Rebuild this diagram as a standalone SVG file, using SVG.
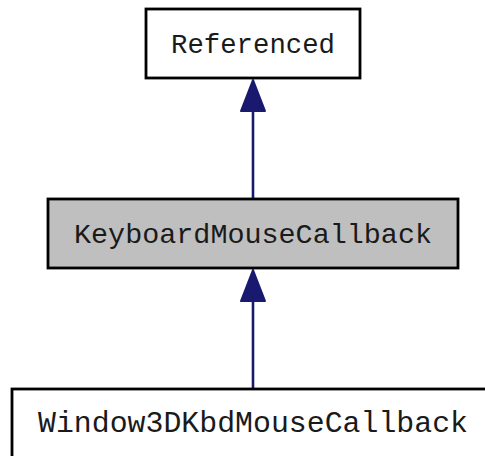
<svg xmlns="http://www.w3.org/2000/svg" width="485" height="456" viewBox="0 0 485 456">
<style>
.box{stroke:#000;stroke-width:2.8;}
.lbl{font-family:"Liberation Mono","Courier New",monospace;font-size:28px;fill:#1a1a1a;text-anchor:middle;}
.edge{stroke:#191970;stroke-width:2.6;fill:none;}
.head{fill:#191970;stroke:#191970;stroke-width:2;stroke-linejoin:round;}
</style>
<rect width="485" height="456" fill="#fff"/>
<g id="connectors">
<line class="edge" x1="253" y1="110" x2="253" y2="198"/>
<polygon class="head" points="253,80 241,111 265,111"/>
<line class="edge" x1="253" y1="300" x2="253" y2="389"/>
<polygon class="head" points="253,270 241,301 265,301"/>
</g>
<g id="node-referenced">
<rect class="box" x="146" y="9" width="214" height="69" fill="#fff"/>
<text class="lbl" x="253" y="53" textLength="164" lengthAdjust="spacingAndGlyphs">Referenced</text>
</g>
<g id="node-keyboardmousecallback">
<rect class="box" x="48" y="199" width="410" height="69" fill="#bfbfbf"/>
<text class="lbl" x="253" y="243" textLength="358" lengthAdjust="spacingAndGlyphs">KeyboardMouseCallback</text>
</g>
<g id="node-window3dkbdmousecallback">
<rect class="box" x="12" y="389" width="500" height="90" fill="#fff"/>
<text class="lbl" x="253" y="432" textLength="430" lengthAdjust="spacingAndGlyphs" style="font-size:29.5px">Window3DKbdMouseCallback</text>
</g>
</svg>
